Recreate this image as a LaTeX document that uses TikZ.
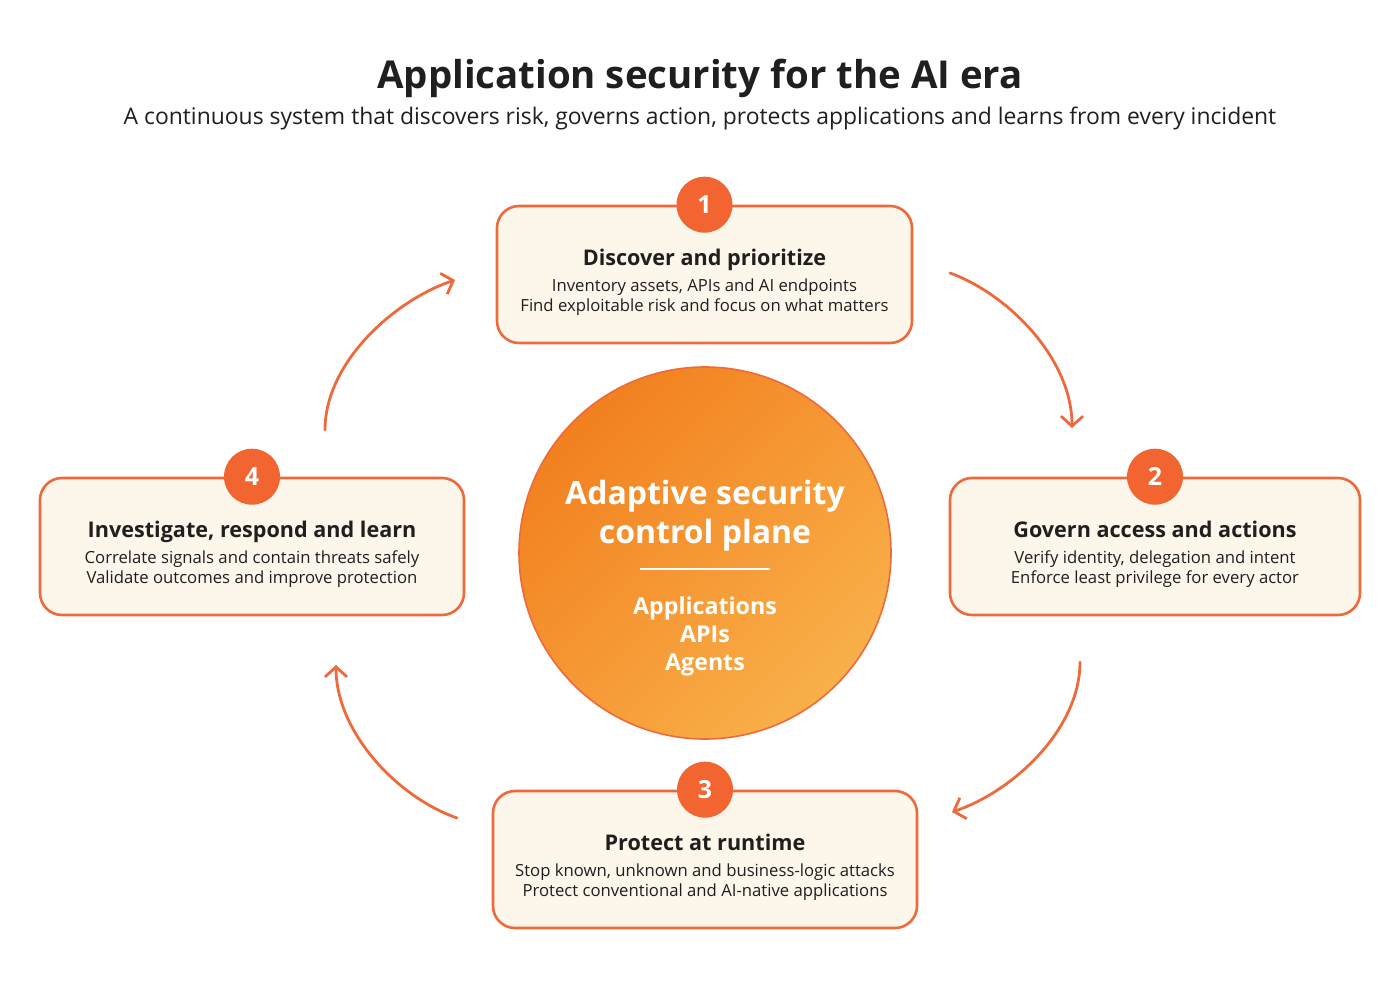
\documentclass[tikz,border=0pt]{standalone}
\usepackage{fontspec}
\setmainfont{Open Sans}
\usetikzlibrary{arrows.meta}
\definecolor{accent}{HTML}{EE6A3C}
\definecolor{badgefill}{HTML}{F26430}
\definecolor{cream}{HTML}{FDF6EB}
\definecolor{coredark}{HTML}{F2801F}
\definecolor{corelight}{HTML}{F9B04A}
\definecolor{ink}{HTML}{1F1F1F}
\begin{document}
\begin{tikzpicture}[x=1pt,y=-1pt,
  stepbox/.style={draw=accent, line width=2.6pt, fill=cream, rounded corners=22pt,
    minimum width=#1, minimum height=137pt},
  steptext/.style={align=center, text=ink, font=\fontsize{16.7}{20}\selectfont},
  badge/.style={circle, fill=badgefill, minimum size=56pt, inner sep=0pt, text=white,
    font=\fontsize{25}{25}\selectfont\bfseries},
  flow/.style={draw=accent, line width=2.8pt, line cap=round,
    -{Straight Barb[length=10pt,width=22pt]}}]
\useasboundingbox (0,0) rectangle (1400,992);

\node[anchor=base, text=ink, font=\fontsize{38.4}{40}\selectfont\bfseries] (title) at (700,89)
  {Application security for the AI era};
\node[anchor=base, text=ink, font=\fontsize{22.9}{24}\selectfont] (subtitle) at (700,125)
  {A continuous system that discovers risk, governs action, protects applications and learns from every incident};

\node[circle, draw=accent, line width=1.6pt, minimum size=372pt,
  top color=coredark, bottom color=corelight, shading angle=45] (core) at (705,553) {};
\node[align=center, text=white, font=\fontsize{32}{39}\selectfont\bfseries] (coretitle) at (705,516)
  {Adaptive security\\control plane};
\draw[white, line width=1.4pt] (640,569) -- (770,569);
\node[align=center, text=white, font=\fontsize{23.2}{28}\selectfont\bfseries] (coreitems) at (705,636)
  {Applications\\APIs\\Agents};

\node[stepbox=415pt] (discover) at (704.5,274.5) {};
\node[stepbox=410pt] (govern) at (1155,546.5) {};
\node[stepbox=424pt] (protect) at (705,859.5) {};
\node[stepbox=424pt] (learn) at (252,546.5) {};

\node[steptext] (discover-text) at ([yshift=-8pt]discover.center)
  {{\fontsize{21.6}{21}\selectfont\bfseries Discover and prioritize}\\[6pt]
   Inventory assets, APIs and AI endpoints\\Find exploitable risk and focus on what matters};
\node[steptext] (govern-text) at ([yshift=-8pt]govern.center)
  {{\fontsize{21.6}{21}\selectfont\bfseries Govern access and actions}\\[6pt]
   Verify identity, delegation and intent\\Enforce least privilege for every actor};
\node[steptext] (protect-text) at ([yshift=-8pt]protect.center)
  {{\fontsize{21.6}{21}\selectfont\bfseries Protect at runtime}\\[6pt]
   Stop known, unknown and business-logic attacks\\Protect conventional and AI-native applications};
\node[steptext] (learn-text) at ([yshift=-8pt]learn.center)
  {{\fontsize{21.6}{21}\selectfont\bfseries Investigate, respond and learn}\\[6pt]
   Correlate signals and contain threats safely\\Validate outcomes and improve protection};

\node[badge] (b1) at (discover.north) {1};
\node[badge] (b2) at (govern.north) {2};
\node[badge] (b3) at (protect.north) {3};
\node[badge] (b4) at (learn.north) {4};

\coordinate (a1s) at (950,273);
\coordinate (a1e) at (1072,428);
\coordinate (a2s) at (1080,662);
\coordinate (a2e) at (952,812);
\coordinate (a3s) at (457,818);
\coordinate (a3e) at (336,665);
\coordinate (a4s) at (325,430);
\coordinate (a4e) at (455,280);
\draw[flow] (a1s) .. controls (1010,295) and (1072,360) .. (a1e);
\draw[flow] (a2s) .. controls (1080,730) and (1012,792) .. (a2e);
\draw[flow] (a3s) .. controls (397,797) and (336,732) .. (a3e);
\draw[flow] (a4s) .. controls (325,362) and (395,300) .. (a4e);
\end{tikzpicture}
\end{document}
